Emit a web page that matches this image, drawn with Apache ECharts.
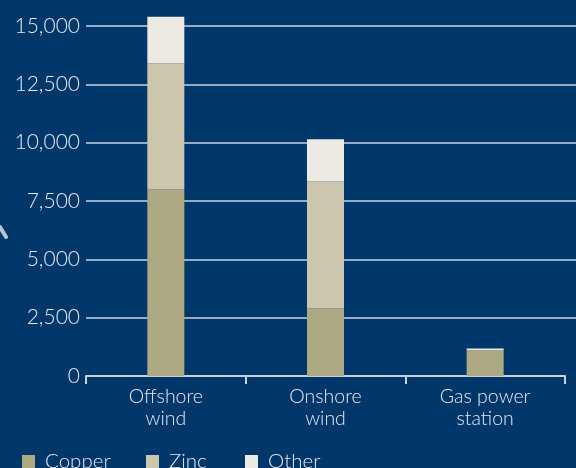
<!DOCTYPE html>
<html>
<head>
<meta charset="utf-8">
<script src="https://cdn.jsdelivr.net/npm/echarts@6/dist/echarts.min.js"></script>
<style>
html,body{margin:0;padding:0;background:#00376B;}
#c{width:576px;height:468px;}
</style>
</head>
<body>
<div id="c"></div>
<script>
const categories = ['Offshore\nwind', 'Onshore\nwind', 'Gas power\nstation'];
const copper = [8000, 2900, 1100];
const zinc = [5400, 5450, 0];
const other = [2000, 1800, 80];
const yTicks = [0, 2500, 5000, 7500, 10000, 12500, 15000];

const FONT = 'Lato, "Open Sans", sans-serif';
const chart = echarts.init(document.getElementById('c'));
const gridColor = '#c9d2df';
const legendText = { color: '#e4e8ef', fontSize: 20.5, fontWeight: 300, fontFamily: FONT, padding: [0, 0, 0, 5] };
const legendBase = { top: 451, padding: 0, icon: 'rect', itemWidth: 13, itemHeight: 13, itemGap: 0, textStyle: legendText };
chart.setOption({
  backgroundColor: '#00376B',
  animation: false,
  textStyle: { fontFamily: FONT },
  grid: [
    { left: 86, right: 11, top: 14.33, bottom: 92, containLabel: false },
    { left: 86, right: 0, top: 26, bottom: 92, containLabel: false }
  ],
  xAxis: [
    {
      gridIndex: 0, type: 'category', data: categories,
      axisLine: { show: true, lineStyle: { color: '#c8d0dc', width: 2 } },
      axisTick: { show: true, length: 8, lineStyle: { color: '#c8d0dc', width: 2 } },
      axisLabel: { color: '#e4e8ef', fontSize: 19.5, fontWeight: 300, lineHeight: 22, margin: 10, fontFamily: FONT }
    },
    { gridIndex: 1, type: 'value', show: false }
  ],
  yAxis: [
    { gridIndex: 0, type: 'value', min: 0, max: 15500, show: false, splitLine: { show: false } },
    {
      gridIndex: 1, type: 'value', min: 0, max: 15000, interval: 2500,
      axisLine: { show: false }, axisTick: { show: false },
      axisLabel: {
        color: '#e4e8ef', fontSize: 21, fontWeight: 300, margin: 6, fontFamily: FONT,
        formatter: v => yTicks.includes(v) ? v.toLocaleString('en-US') : ''
      },
      splitLine: { show: true, lineStyle: { color: ['transparent', gridColor, gridColor, gridColor, gridColor, gridColor, gridColor], width: 1.5 } }
    }
  ],
  legend: [
    Object.assign({ data: ['Copper'], left: 22 }, legendBase),
    Object.assign({ data: ['Zinc'], left: 146 }, legendBase),
    Object.assign({ data: ['Other'], left: 245 }, legendBase)
  ],
  series: [
    { name: 'Copper', type: 'bar', stack: 't', xAxisIndex: 0, yAxisIndex: 0, barWidth: 37, data: copper, itemStyle: { color: '#ADA983' } },
    { name: 'Zinc', type: 'bar', stack: 't', xAxisIndex: 0, yAxisIndex: 0, barWidth: 37, data: zinc, itemStyle: { color: '#CBC6AD' } },
    { name: 'Other', type: 'bar', stack: 't', xAxisIndex: 0, yAxisIndex: 0, barWidth: 37, data: other, itemStyle: { color: '#ECEAE2' } }
  ],
  graphic: [
    { type: 'line', shape: { x1: 0, y1: 227, x2: 6, y2: 237 }, style: { stroke: '#b9c5d6', lineWidth: 4, lineCap: 'round' } }
  ]
});
</script>
</body>
</html>
